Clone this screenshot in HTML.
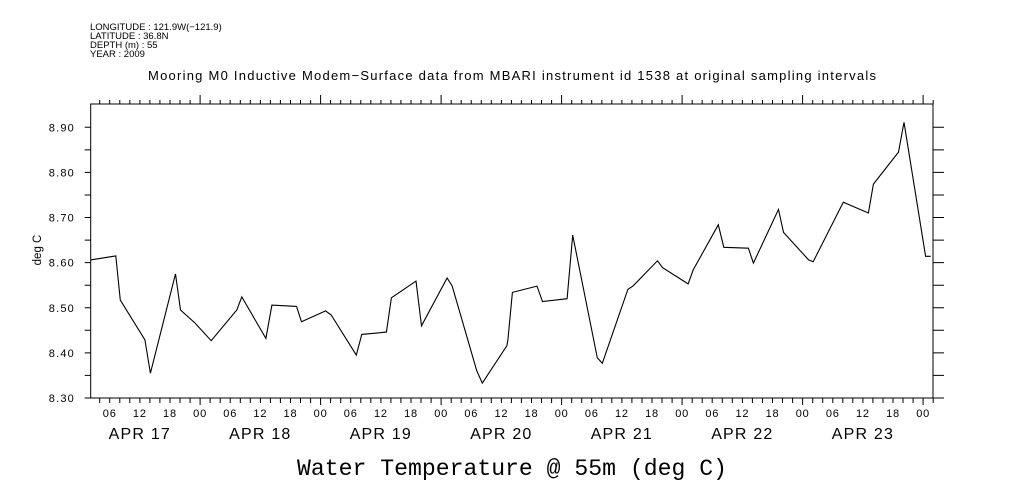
<!DOCTYPE html>
<html><head><meta charset="utf-8">
<style>
html,body{margin:0;padding:0;background:#fff;}
svg{display:block;}
text{font-family:"Liberation Sans",sans-serif;fill:#000;}
</style></head>
<body>
<svg id="chart" width="1009" height="504" viewBox="0 0 1009 504" xmlns="http://www.w3.org/2000/svg">
  <g font-size="9.5">
    <text x="90" y="30">LONGITUDE : 121.9W(−121.9)</text>
    <text x="90" y="39">LATITUDE : 36.8N</text>
    <text x="90" y="48">DEPTH (m) : 55</text>
    <text x="90" y="57">YEAR : 2009</text>
  </g>
  <text x="512" y="80" text-anchor="middle" font-size="13" textLength="728" lengthAdjust="spacing">Mooring M0 Inductive Modem−Surface data from MBARI instrument id 1538 at original sampling intervals</text>
  <text x="512" y="475" text-anchor="middle" font-size="23" textLength="430" lengthAdjust="spacingAndGlyphs" style="font-family:'Liberation Mono',monospace">Water Temperature @ 55m (deg C)</text>
  <text transform="translate(41,250) rotate(-90)" text-anchor="middle" font-size="11.5">deg C</text>
  <g id="axes"></g>
  <g id="series"></g>
</svg>
<script>
const hours = [2.2,7.2,8.1,13.0,14.1,19.1,20.1,23.0,26.2,31.3,32.3,37.1,38.3,43.2,44.2,49.0,50.1,55.1,56.2,61.1,62.1,67.0,68.1,73.2,74.2,79.1,80.2,85.1,85.3,86.2,91.1,92.2,97.1,98.2,103.1,104.1,109.2,110.2,115.1,116.1,121.2,122.2,127.2,128.3,133.2,134.2,139.2,140.2,145.2,146.1,152.1,157.1,158.1,163.1,164.2,168.5,169.5];
const temps = [8.606,8.615,8.517,8.429,8.355,8.575,8.495,8.466,8.427,8.495,8.524,8.432,8.506,8.503,8.469,8.493,8.484,8.395,8.441,8.446,8.522,8.559,8.460,8.566,8.548,8.360,8.333,8.416,8.429,8.534,8.548,8.514,8.520,8.661,8.389,8.377,8.541,8.548,8.604,8.589,8.553,8.584,8.684,8.634,8.632,8.599,8.718,8.667,8.606,8.602,8.734,8.710,8.774,8.845,8.911,8.614,8.614];
const yTicks = [8.30,8.40,8.50,8.60,8.70,8.80,8.90];
const dayLabels = ["APR 17","APR 18","APR 19","APR 20","APR 21","APR 22","APR 23"];
const hourLabels = ["00","06","12","18"];

const L=90.7,R=933,T=104,B=398;
const tMin=2.2,tMax=170, vMin=8.30, vMax=8.90;
const X=t=>79.6+t*5.021;
const Y=v=>B-(v-vMin)*(398-127.3)/(vMax-vMin);
const NS="http://www.w3.org/2000/svg";
const axes=document.getElementById('axes');
function mk(tag,attrs,parent){const e=document.createElementNS(NS,tag);for(const k in attrs)e.setAttribute(k,attrs[k]);parent.appendChild(e);return e;}

const frame=mk('rect',{x:L,y:T,width:R-L,height:B-T,fill:'none',stroke:'#000','stroke-width':1},axes);



let tk='';
for(let h=4;h<=tMax;h+=2){
  const x=X(h).toFixed(1);
  const major=(h%24===0);
  tk+=`M${x},${T}V${major?T-9:T-4}M${x},${B}V${major?B+7:B+5}`;
}
for(let v=vMin;v<=vMax+0.001;v+=0.05){
  const y=Y(v).toFixed(1);
  tk+=`M${L},${y}H${L-6}M${R},${y}H${R+11}`;
}
const ticks=mk('path',{d:tk,stroke:'#000','stroke-width':1,fill:'none'},axes);



yTicks.forEach(v=>{
  const t=mk('text',{x:75,y:Y(v)+4,'text-anchor':'end','font-size':11,'letter-spacing':1.2},axes);
  t.textContent=v.toFixed(2);
  
  
});
for(let h=6;h<=tMax;h+=6){
  const t=mk('text',{x:X(h),y:417,'text-anchor':'middle','font-size':11,'letter-spacing':0.8},axes);
  t.textContent=hourLabels[(h/6)%4];
  
  
}
dayLabels.forEach((d,i)=>{
  const t=mk('text',{x:X(i*24+12),y:439,'text-anchor':'middle','font-size':16,'letter-spacing':1.2},axes);
  t.textContent=d;
  
  
});

const pts=hours.map((h,i)=>X(h).toFixed(1)+','+Y(temps[i]).toFixed(1)).join(' ');
const line=mk('polyline',{points:pts,fill:'none',stroke:'#000','stroke-width':1.1},document.getElementById('series'));


</script>
</body></html>
